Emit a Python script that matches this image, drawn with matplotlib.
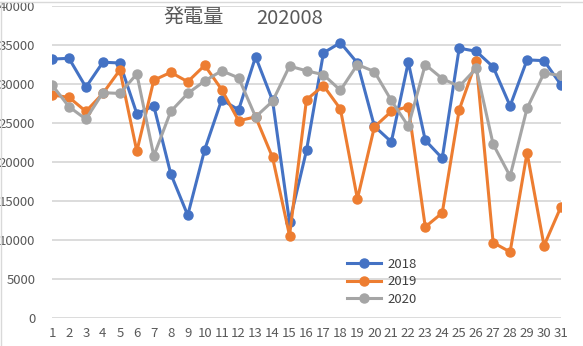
import matplotlib.pyplot as plt
from matplotlib.lines import Line2D

plt.rcParams['font.family'] = ['Noto Sans CJK JP', 'DejaVu Sans']

days = list(range(1, 32))

gen_2018 = [33200, 33300, 29600, 32800, 32700, 26200, 27200, 18500, 13200, 21600,
            28000, 26700, 33500, 27900, 12300, 21500, 34000, 35300, 32700, 24600,
            22600, 32800, 22800, 20500, 34600, 34200, 32200, 27200, 33100, 33000,
            29900]
gen_2019 = [28600, 28300, 26500, 28800, 31800, 21400, 30500, 31500, 30300, 32400,
            29300, 25300, 25800, 20600, 10600, 28000, 29800, 26800, 15300, 24500,
            26500, 27100, 11700, 13500, 26700, 32900, 9700, 8500, 21200, 9300,
            14300]
gen_2020 = [29900, 27100, 25500, 28900, 28800, 31300, 20800, 26500, 28800, 30400,
            31700, 30800, 25800, 27800, 32300, 31700, 31200, 29200, 32500, 31600,
            27900, 24600, 32500, 30700, 29700, 32000, 22300, 18200, 26900, 31400,
            31100]

series = [('2018', gen_2018, '#4472C4'),
          ('2019', gen_2019, '#ED7D31'),
          ('2020', gen_2020, '#A5A5A5')]

fig = plt.figure(figsize=(5.83, 3.46), dpi=100)
ax = fig.add_axes([52 / 583, 27.7 / 346, 509 / 583, 312.3 / 346])

for name, vals, col in series:
    ax.plot(days, vals, color=col, lw=2.2, marker='o', ms=6.5,
            solid_capstyle='round', label=name, zorder=3)

ax.set_xlim(1, 31)
ax.set_ylim(0, 40000)
ax.set_yticks(range(0, 40001, 5000))
ax.set_xticks(days)
ax.set_xticklabels([str(d) for d in days])
ax.grid(axis='y', color='#D9D9D9', lw=1.3, zorder=0)
for s in ax.spines.values():
    s.set_visible(False)
ax.tick_params(length=0, colors='#595959', labelsize=9.5)
ax.tick_params(axis='x', pad=6)
ax.tick_params(axis='y', pad=12)

handles = [Line2D([], [], color=c, lw=2.2, marker='o', ms=6.5) for _, _, c in series]
ax.legend(handles, [n for n, _, _ in series], loc='upper left',
          bbox_to_anchor=(283 / 509, (346 - 27.7 - 246) / 312.3),
          frameon=False, fontsize=9.5, labelcolor='#404040',
          handlelength=2.6, handletextpad=0.5, labelspacing=0.35)

# title drawn as two pieces to keep the wide gap
fig.text(163 / 583, 1 - 18 / 346, '発電量', fontsize=14.5,
         color='#595959', ha='left', va='center')
fig.text(256 / 583, 1 - 18 / 346, '202008', fontsize=14.5,
         color='#595959', ha='left', va='center')

# chart frame edges
fig.add_artist(Line2D([0.5 / 583, 0.5 / 583], [0, 1 - 1.5 / 346], color='#D9D9D9', lw=1))
fig.add_artist(Line2D([0, 1], [1 - 1.5 / 346, 1 - 1.5 / 346], color='#D9D9D9', lw=1))

fig.savefig('out.png', dpi=100)
